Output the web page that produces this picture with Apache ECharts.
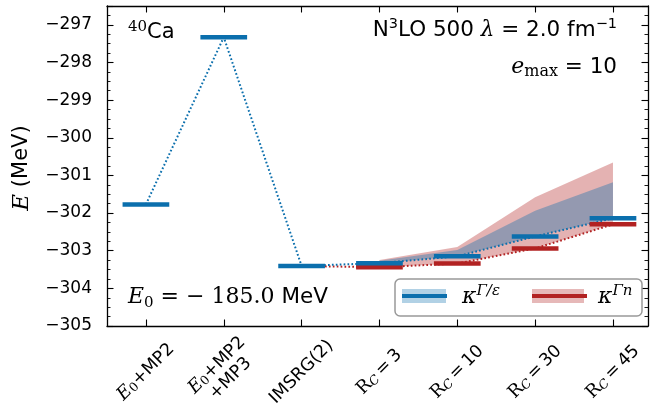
<!DOCTYPE html>
<html><head><meta charset="utf-8">
<script src="https://cdn.jsdelivr.net/npm/echarts@6/dist/echarts.min.js"></script>
<style>html,body{margin:0;padding:0;background:#fff}#c{width:650px;height:417px}</style>
</head><body><div id="c"></div>
<script>
// ---- data ----
const categories = ['E0+MP2', 'E0+MP2\n+MP3', 'IMSRG(2)', 'RC=3', 'RC=10', 'RC=30', 'RC=45'];
const refLevels = [-301.77, -297.33, -303.405];            // E0+MP2, E0+MP2+MP3, IMSRG(2)
const kappaGeLevels = [-303.33, -303.15, -302.62, -302.14]; // kappa^{Gamma/eps}, RC = 3,10,30,45
const kappaGnLevels = [-303.44, -303.34, -302.94, -302.30]; // kappa^{Gamma n}
const kappaGeUpper = [-303.27, -302.98, -301.94, -301.18];  // band upper edge (Gamma/eps)
const kappaGnUpper = [-303.25, -302.90, -301.58, -300.66];  // band upper edge (Gamma n)
const kappaStart = 3; // category index of RC=3

const BLUE = '#0b6fad', RED = '#b22222';
const SANS = 'DejaVu Sans', SERIF = 'DejaVu Serif';

const XF = 18;
const xLabelRich = {
  it: {fontFamily: SERIF, fontStyle: 'italic', fontSize: XF, lineHeight: 19, color: '#000'},
  rm: {fontFamily: SERIF, fontSize: XF, lineHeight: 19, color: '#000'},
  sub: {fontFamily: SERIF, fontSize: 12.5, lineHeight: 8, verticalAlign: 'bottom', color: '#000'},
  subit: {fontFamily: SERIF, fontStyle: 'italic', fontSize: 12.5, lineHeight: 8, verticalAlign: 'bottom', color: '#000'},
  s: {fontFamily: SANS, fontSize: XF - 0.5, lineHeight: 19, color: '#000'}
};
function xLabel(name) {
  if (name.startsWith('E0')) {
    return name.split('\n').map(l => l.startsWith('E0')
      ? '{it|E}{sub|0}{s|' + l.slice(2) + '}' : '{s|' + l + '}').join('\n');
  }
  if (name.startsWith('RC')) return '{rm|R}{subit|C}{s|\u2009=\u2009' + name.slice(3) + '}';
  return '{s|' + name + '}';
}

const blueLine = refLevels.map((v, i) => [i, v]).concat(kappaGeLevels.map((v, i) => [i + kappaStart, v]));
const redLine = [[kappaStart - 1, refLevels[kappaStart - 1]]].concat(kappaGnLevels.map((v, i) => [i + kappaStart, v]));
const blueBars = blueLine.slice();
const redBars = kappaGnLevels.map((v, i) => [i + kappaStart, v]);

function barSeries(data, color, z) {
  return {
    type: 'custom', data: data, z: z, silent: true,
    renderItem: function (params, api) {
      const x = api.value(0), y = api.value(1);
      const p1 = api.coord([x - 0.3, y]), p2 = api.coord([x + 0.3, y]);
      return {type: 'line', shape: {x1: p1[0], y1: p1[1], x2: p2[0], y2: p2[1]},
              style: {stroke: color, lineWidth: 4.5, lineCap: 'butt'}};
    }
  };
}
function bandSeries(lower, upper, color, z) {
  const rows = lower.map((v, i) => [i + kappaStart, v, upper[i]]);
  return {
    type: 'custom', data: rows, z: z, silent: true,
    renderItem: function (params, api) {
      if (params.dataIndex !== 0) return null;
      const top = rows.map(r => api.coord([r[0], r[2]]));
      const bot = rows.map(r => api.coord([r[0], r[1]])).reverse();
      return {type: 'polygon', shape: {points: top.concat(bot)}, style: {fill: color}};
    }
  };
}

const tickStyle = {show: true, inside: true, length: 6.5, lineStyle: {color: '#000', width: 1.1}};
const minorStyle = {show: true, splitNumber: 4, length: 3.5, lineStyle: {color: '#000', width: 0.9}};
const axisLine = {show: true, onZero: false, lineStyle: {color: '#000', width: 1.3}};
const catIdx = categories.map((c, i) => i);

const chart = echarts.init(document.getElementById('c'), null, {renderer: 'canvas'});
chart.setOption({
  animation: false,
  backgroundColor: '#fff',
  grid: {left: 107, right: 2, top: 6, bottom: 91},
  xAxis: [
    {type: 'value', min: -0.5, max: 6.45, position: 'bottom', splitLine: {show: false},
     axisLine: axisLine,
     axisTick: Object.assign({}, tickStyle, {customValues: catIdx}),
     axisLabel: {customValues: catIdx, rotate: 45, align: 'center', verticalAlign: 'middle', margin: 46,
                 formatter: v => xLabel(categories[Math.round(v)]), rich: xLabelRich}},
    {type: 'value', min: -0.5, max: 6.45, position: 'top', splitLine: {show: false},
     axisLine: axisLine,
     axisTick: Object.assign({}, tickStyle, {customValues: catIdx}),
     axisLabel: {show: false}}
  ],
  yAxis: [
    {type: 'value', min: -305, max: -296.5, interval: 1, position: 'left', splitLine: {show: false},
     axisLine: axisLine, axisTick: tickStyle, minorTick: minorStyle,
     axisLabel: {showMaxLabel: false, margin: 15, color: '#000', fontFamily: SANS, fontSize: 17,
                 formatter: v => (v < 0 ? '\u2212' : '') + Math.abs(v)}},
    {type: 'value', min: -305, max: -296.5, interval: 1, position: 'right', splitLine: {show: false},
     axisLine: axisLine, axisTick: tickStyle, minorTick: minorStyle, axisLabel: {show: false}}
  ],
  series: [
    bandSeries(kappaGnLevels, kappaGnUpper, 'rgba(178,34,34,0.35)', 1),
    bandSeries(kappaGeLevels, kappaGeUpper, 'rgba(11,111,173,0.37)', 2),
    {type: 'line', data: redLine, symbol: 'none', silent: true, z: 3,
     lineStyle: {color: RED, width: 2, type: [1.7, 2.2], cap: 'butt'}},
    {type: 'line', data: blueLine, symbol: 'none', silent: true, z: 3,
     lineStyle: {color: BLUE, width: 2, type: [1.7, 2.2], cap: 'butt'}},
    barSeries(redBars, RED, 4),
    barSeries(blueBars, BLUE, 5)
  ],
  graphic: [
    {type: 'text', x: 22, y: 168, rotation: Math.PI / 2, style: {
      text: '{it|E}{s| (MeV)}', align: 'center', verticalAlign: 'middle',
      rich: {it: {fontFamily: SERIF, fontStyle: 'italic', fontSize: 23, fill: '#000'},
             s: {fontFamily: SANS, fontSize: 21, fill: '#000'}}}},
    {type: 'text', x: 128, y: 33, style: {
      text: '{sup|40}{s|Ca}', align: 'left', verticalAlign: 'middle',
      rich: {sup: {fontFamily: SERIF, fontSize: 15, lineHeight: 13, verticalAlign: 'top', fill: '#000'},
             s: {fontFamily: SANS, fontSize: 21, lineHeight: 27, fill: '#000'}}}},
    {type: 'text', x: 617, y: 30, style: {
      text: '{s|N}{sup|3}{s|LO 500 }{it|λ}{s| = 2.0 fm}{sup|−1}', align: 'right', verticalAlign: 'middle',
      rich: {s: {fontFamily: SANS, fontSize: 21.5, lineHeight: 26, fill: '#000'},
             it: {fontFamily: SERIF, fontStyle: 'italic', fontSize: 21.5, lineHeight: 26, fill: '#000'},
             sup: {fontFamily: SANS, fontSize: 14.5, lineHeight: 13, verticalAlign: 'top', fill: '#000'}}}},
    {type: 'text', x: 617, y: 67, style: {
      text: '{it|e}{sub|max}{s| = 10}', align: 'right', verticalAlign: 'middle',
      rich: {s: {fontFamily: SANS, fontSize: 21.5, lineHeight: 26, fill: '#000'},
             it: {fontFamily: SERIF, fontStyle: 'italic', fontSize: 22, lineHeight: 26, fill: '#000'},
             sub: {fontFamily: SERIF, fontSize: 16, lineHeight: 12, verticalAlign: 'bottom', fill: '#000'}}}},
    {type: 'text', x: 128, y: 297, style: {
      text: '{it|E}{sub|0}{m| = − 185.0 }{s|MeV}', align: 'left', verticalAlign: 'middle',
      rich: {it: {fontFamily: SERIF, fontStyle: 'italic', fontSize: 22, lineHeight: 28, fill: '#000'},
             m: {fontFamily: SERIF, fontSize: 22, lineHeight: 28, fill: '#000'},
             s: {fontFamily: SANS, fontSize: 21.5, lineHeight: 28, fill: '#000'},
             sub: {fontFamily: SERIF, fontSize: 15, lineHeight: 12, verticalAlign: 'bottom', fill: '#000'}}}},
    // legend
    {type: 'rect', z: 10, shape: {x: 395, y: 279, width: 247, height: 37, r: 5},
     style: {fill: 'rgba(255,255,255,0.85)', stroke: '#999', lineWidth: 1.5}},
    {type: 'rect', z: 11, shape: {x: 402, y: 289, width: 44, height: 14},
     style: {fill: 'rgba(11,111,173,0.32)'}},
    {type: 'line', z: 12, shape: {x1: 402, y1: 296, x2: 447, y2: 296}, style: {stroke: BLUE, lineWidth: 4}},
    {type: 'text', z: 12, x: 462, y: 297, style: {
      text: '{k|κ}{sup|Γ/ε}', align: 'left', verticalAlign: 'middle',
      rich: {k: {fontFamily: SERIF, fontStyle: 'italic', fontSize: 22, lineHeight: 26, fill: '#000'},
             sup: {fontFamily: SERIF, fontStyle: 'italic', fontSize: 15, lineHeight: 14, verticalAlign: 'top', fill: '#000'}}}},
    {type: 'rect', z: 11, shape: {x: 532, y: 289, width: 52, height: 14},
     style: {fill: 'rgba(178,34,34,0.32)'}},
    {type: 'line', z: 12, shape: {x1: 532, y1: 296, x2: 587, y2: 296}, style: {stroke: RED, lineWidth: 4}},
    {type: 'text', z: 12, x: 598, y: 297, style: {
      text: '{k|κ}{sup|Γn}', align: 'left', verticalAlign: 'middle',
      rich: {k: {fontFamily: SERIF, fontStyle: 'italic', fontSize: 22, lineHeight: 26, fill: '#000'},
             sup: {fontFamily: SERIF, fontStyle: 'italic', fontSize: 15, lineHeight: 14, verticalAlign: 'top', fill: '#000'}}}}
  ]
});
</script></body></html>
